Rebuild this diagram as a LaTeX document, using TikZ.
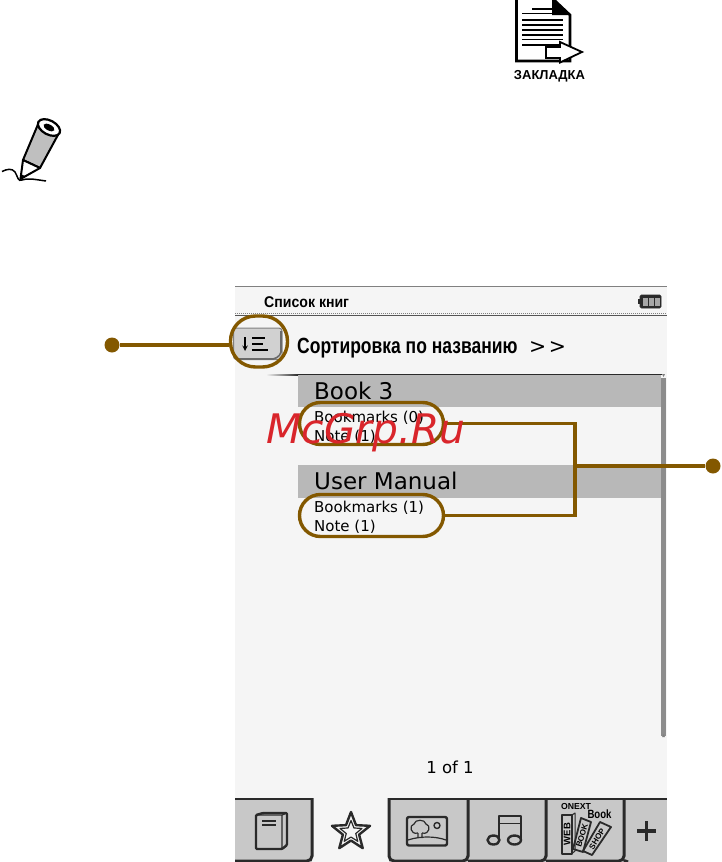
\documentclass[tikz,border=0pt]{standalone}
\usepackage{fontspec}
\setmainfont{DejaVu Sans}
\newfontfamily\lib{Liberation Sans}
\usetikzlibrary{calc}
\definecolor{brn}{HTML}{835800}
\definecolor{scr}{HTML}{F5F5F5}
\definecolor{band}{HTML}{B8B8B8}
\definecolor{tabg}{HTML}{C8C8C8}
\definecolor{ink}{HTML}{2A2A2A}
\definecolor{wm}{HTML}{D9252B}
\tikzset{
  oval/.style={draw=brn,line width=3.4pt,rounded corners=21pt,inner sep=0pt},
  dotn/.style={circle,fill=brn,draw=none,minimum size=15pt,inner sep=0pt},
  lead/.style={draw=brn,line width=3.4pt},
  txt/.style={inner sep=0pt,anchor=base west,text=black},
  ico/.style={draw=ink,line width=2pt,line join=round,fill=none},
}
\begin{document}
\begin{tikzpicture}[x=1pt,y=-1pt]
\useasboundingbox (0,0) rectangle (721,862);
\fill[white] (0,0) rectangle (721,862);
% document icon
\filldraw[fill=white,draw=black,line width=2.6pt] (516.5,-2) -- (552,-2) -- (570,15) -- (570,61) -- (516.5,61) -- cycle;
\fill[black] (552,-1) -- (570,15) -- (552,15) -- cycle;
\foreach \yy/\xa in {9/532,13.5/522,20/522,25/522,30/522,35/522,39.5/522,45/522}
  \draw[black,line width=1.5pt] (\xa,\yy) -- (563,\yy);
\filldraw[fill=white,draw=black,line width=1.8pt] (546,47) -- (560,47) -- (560,42) -- (582,52) -- (560,62.5) -- (560,58) -- (546,58) -- cycle;
\node[inner sep=0pt,font=\lib\bfseries\fontsize{13}{15}\selectfont] (zak) at (549.5,76) {ЗАКЛАДКА};
% pencil
\draw[black,line width=2pt,line join=round,fill=band!90] (39,122) -- (23,160) -- (40,168) -- (59,133) -- cycle;
\draw[black,line width=2pt,line join=round,fill=white] (23,160) -- (20.5,179) -- (40,168) -- cycle;
\fill[black] (19.5,180.5) -- (20.5,174) -- (26,176.5) -- cycle;
\draw[black,line width=2.2pt,fill=white,rotate around={-28:(49,127.5)}] (49,127.5) ellipse (12 and 7);
\fill[black,rotate around={-28:(49,127.5)}] (49,127.5) ellipse (6 and 3);
\draw[black,line width=1.5pt] (2,171.5) .. controls (7,169) and (12,168) .. (15,172) .. controls (18,177) and (18,182) .. (22,180) .. controls (28,178) and (32,179) .. (46,181);
% screen
\fill[scr] (235,286) rectangle (666.5,862);
\draw[gray,line width=1pt] (235,286.5) -- (666.5,286.5);
\draw[gray,line width=1pt,densely dotted] (235,313.5) -- (666.5,313.5);
\draw[ink!80,line width=.8pt] (235,315.5) -- (666.5,315.5);
\node[txt,font=\lib\bfseries\fontsize{15.5}{18}\selectfont] (title) at (264,307) {\scalebox{.91}[1]{Список книг}};
% battery
\filldraw[fill=ink,draw=ink,rounded corners=1.5pt,line width=.8pt] (640,295) rectangle (661,308);
\fill[ink] (638,299) rectangle (640,304);
\foreach \xx in {643,649,655} \fill[gray!70] (\xx,297.5) rectangle +(4.5,8);
% sort button
\filldraw[fill=black!18,draw=gray,rounded corners=3pt,line width=1pt] (233.5,328) rectangle (282,359.5);
\draw[ink!70,line width=1.6pt,rounded corners=2pt] (281,331) -- (281,354) -- (275,359) -- (238,359);
\draw[black,line width=1.4pt,-stealth] (245,337) -- (245,351);
\foreach \yy/\xb in {338/265,344/263,350/268} \draw[black,line width=1.5pt] (252,\yy) -- (\xb,\yy);
\node[txt,font=\lib\bfseries\fontsize{22}{26}\selectfont] (sortt) at (297,353.5) {\scalebox{.795}[1]{Сортировка по названию}};
\node[txt,font=\fontsize{20.5}{24}\selectfont] (gg) at (529,353) {>\hspace{2.5pt}>};
% list
\shade[left color=scr,right color=ink] (266,374) rectangle (298,375);
\draw[ink,line width=.8pt] (298,374.5) -- (662,374.5);
\fill[band] (298,375) rectangle (661,407);
\fill[band] (298,465) rectangle (661,498);
\fill[gray!90] (661,378) rectangle (666,736);
\fill[gray] (662,374) -- (665,374) -- (663.5,377) -- cycle;
\fill[gray] (662,737) -- (665,737) -- (663.5,734) -- cycle;
\node[txt,font=\fontsize{23}{27}\selectfont] (b3) at (314,399) {Book 3};
\node[txt,font=\fontsize{15}{18}\selectfont] (bm0) at (314,422) {Bookmarks (0)};
\node[txt,font=\fontsize{15}{18}\selectfont] (n0) at (314,441) {Note (1)};
\node[txt,font=\fontsize{23}{27}\selectfont] (um) at (314,489.5) {User Manual};
\node[txt,font=\fontsize{15}{18}\selectfont] (bm1) at (314,512) {Bookmarks (1)};
\node[txt,font=\fontsize{15}{18}\selectfont] (n1) at (314,531) {Note (1)};
\node[inner sep=0pt,font=\fontsize{16.5}{19}\selectfont] (pg) at (450,767) {1 of 1};
% tabs
\fill[tabg] (235,798) rectangle (666.5,862);
\fill[scr] (312,795) rectangle (389,862);
\draw[ink,line width=2pt] (235,798.5) -- (313,798.5) (388,798.5) -- (666.5,798.5);
\draw[ink,line width=3pt,rounded corners=5pt] (312,798) -- (312,861) -- (235,861);
\draw[ink,line width=3pt,rounded corners=5pt] (389,798) -- (389,861) -- (468,861) -- (468,798);
\draw[ink,line width=3pt,rounded corners=5pt] (468,861) -- (546,861) -- (546,798);
\draw[ink,line width=3pt,rounded corners=5pt] (546,861) -- (624,861) -- (624,798);
\draw[ink,line width=3pt] (624,860.5) -- (628,862);
% book icon
\draw[ico,line width=2.4pt,rounded corners=1pt] (256,815) -- (263,813) -- (287,813) -- (287,845) -- (282,849) -- (256,849) -- cycle;
\draw[ico,line width=1.2pt] (256,815) -- (282,815) -- (282,849) (282,815) -- (287,813);
\draw[ico,line width=1.2pt] (262,821) -- (276,821) (262,825) -- (276,825);
% star icon
\coordinate (sc) at (351,832);
\draw[ico,line width=2.4pt] ($(sc)+(-90:20)$) -- ($(sc)+(-54:8.5)$) -- ($(sc)+(-18:20)$) -- ($(sc)+(18:8.5)$) -- ($(sc)+(54:20)$) -- ($(sc)+(90:8.5)$) -- ($(sc)+(126:20)$) -- ($(sc)+(162:8.5)$) -- ($(sc)+(198:20)$) -- ($(sc)+(234:8.5)$) -- cycle;
\draw[ico,line width=1.2pt] ($(sc)+(-90:11.5)$) -- ($(sc)+(-54:5)$) -- ($(sc)+(-18:11.5)$) -- ($(sc)+(18:5)$) -- ($(sc)+(54:11.5)$) -- ($(sc)+(90:5)$) -- ($(sc)+(126:11.5)$) -- ($(sc)+(162:5)$) -- ($(sc)+(198:11.5)$) -- ($(sc)+(234:5)$) -- cycle;
% picture icon
\draw[ico,rounded corners=2pt,line width=2.4pt] (407,817) rectangle (447,845.5);
\draw[ico,line width=1.2pt] (408,840) .. controls (420,836) and (435,836) .. (446,840);
\draw[ico,line width=1.2pt] (418,838) -- (418,833) (422,838) -- (422,833) (418,833) .. controls (410,835) and (409,825) .. (414,824) .. controls (415,819) and (425,819) .. (426,824) .. controls (431,825) and (430,835) .. (422,833);
\draw[ico,line width=1.4pt] (437,825.5) circle (3);
% music icon
\draw[ico,line width=2.4pt] (499,838) -- (499,816) -- (521,816) -- (521,839);
\draw[ico,line width=2.4pt] (493.5,840) ellipse (6 and 4.5) (514.5,840) ellipse (6.5 and 4.5);
\draw[ico,line width=1pt] (499,823) -- (521,823);
% webbook icon
\node[inner sep=0pt,font=\lib\bfseries\fontsize{8.7}{10}\selectfont] (onx) at (576,806) {ONEXT};
\node[inner sep=0pt,font=\lib\bfseries\fontsize{12}{14}\selectfont] (bk) at (599.5,814) {\scalebox{.8}[1]{Book}};
\draw[ico,line width=2pt] (561.5,815) rectangle (572,853.5);
\draw[ico,line width=1pt] (572,815) -- (575,813) -- (575,851) -- (572,853.5);
\node[inner sep=0pt,rotate=90,font=\lib\bfseries\fontsize{9.5}{11}\selectfont] (w1) at (567,834) {WEB};
\draw[ico,line width=1.8pt] (581,818) -- (591,822) -- (583,852) -- (573,849) -- cycle;
\node[inner sep=0pt,rotate=73,font=\lib\bfseries\fontsize{8}{9}\selectfont] (w2) at (582,835.5) {BOOK};
\draw[ico,line width=1.8pt] (600,822) -- (611,827) -- (592,855) -- (583,851) -- cycle;
\node[inner sep=0pt,rotate=58,font=\lib\bfseries\fontsize{8}{9}\selectfont] (w3) at (597,839) {SHOP};
% plus
\draw[ink,line width=3.6pt] (637,831) -- (656,831) (646.5,821) -- (646.5,841);
% callouts
\node[oval,rounded corners=25pt,minimum width=57pt,minimum height=51pt] (o0) at (259,341.5) {};
\node[oval,minimum width=144pt,minimum height=42pt] (o1) at (371.5,423.5) {};
\node[oval,minimum width=144pt,minimum height=42pt] (o2) at (371.5,515.5) {};
\node[dotn] (d0) at (112,345) {};
\node[dotn] (d1) at (713,466) {};
\coordinate (j) at (575,466);
\draw[lead] (d0) -- (d0 -| o0.west);
\draw[lead,line join=miter] (o1.east) -- (o1.east -| j) -- (o2.east -| j) -- (o2.east);
\draw[lead] (j) -- (d1);
% watermark
\node[inner sep=0pt,font=\itshape\fontsize{40.7}{48}\selectfont,text=wm] (wmk) at (366,433) {McGrp.Ru};
\end{tikzpicture}
\end{document}
